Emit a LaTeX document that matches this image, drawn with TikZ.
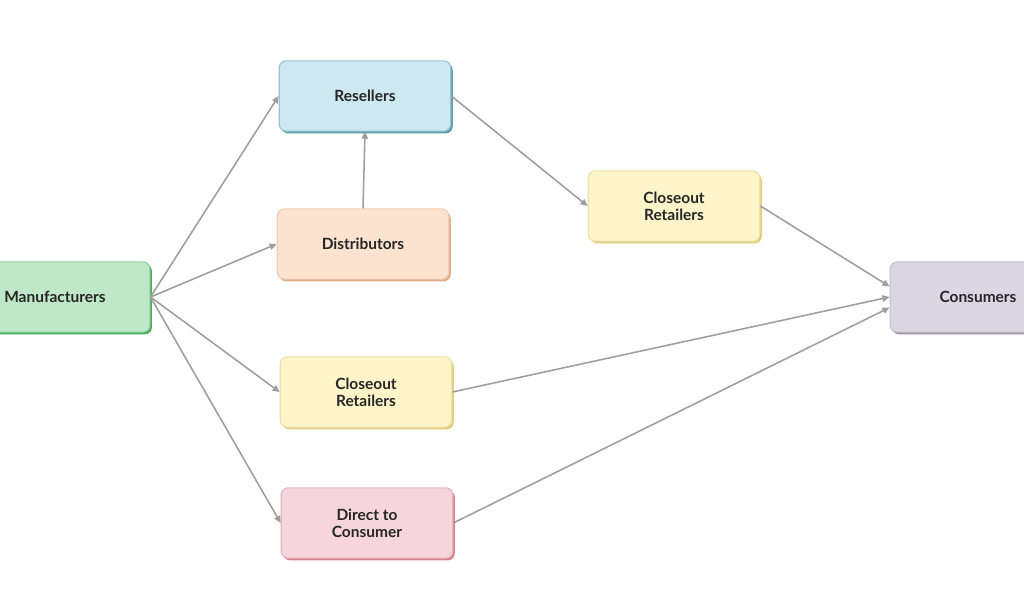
\documentclass[tikz,border=0pt]{standalone}
\usepackage{fontspec}
\setmainfont{Lato}
\usetikzlibrary{arrows.meta,shadows}
\definecolor{mfill}{HTML}{BFE8C8}\definecolor{mline}{HTML}{4CAF60}
\definecolor{rfill}{HTML}{CDE8F0}\definecolor{rline}{HTML}{5A9CB0}
\definecolor{dfill}{HTML}{FBE3CF}\definecolor{dline}{HTML}{E2AE88}
\definecolor{cfill}{HTML}{FDF5C9}\definecolor{cline}{HTML}{E0CE78}
\definecolor{pfill}{HTML}{F7D5DC}\definecolor{pline}{HTML}{D9838F}
\definecolor{kfill}{HTML}{DAD7E2}\definecolor{kline}{HTML}{9A97A8}
\definecolor{arr}{HTML}{9E9E9E}
\tikzset{
  box/.style 2 args={draw=#2!60, fill=#1, rounded corners=5pt, line width=0.8pt,
    minimum width=122pt, minimum height=50pt, align=center, font=\bfseries\fontsize{11}{12}\selectfont,
    text=black!85, general shadow={fill=#2, shadow xshift=1.4pt, shadow yshift=-1.6pt}},
  link/.style={draw=arr, line width=1.1pt, -{Triangle[length=5pt,width=4.5pt]}}
}
\begin{document}
\begin{tikzpicture}[x=0.025cm,y=-0.025cm]
    \useasboundingbox[fill=white] (0,0) rectangle (1024,597);
    \node[box={mfill}{mline}, minimum width=135pt] (manuf) at (55,297) {Manufacturers};
    \node[box={rfill}{rline}] (resell) at (365,96) {Resellers};
    \node[box={dfill}{dline}] (distr) at (363,244) {Distributors};
    \node[box={cfill}{cline}] (close1) at (674,206) {Closeout\\Retailers};
    \node[box={cfill}{cline}] (close2) at (366,392) {Closeout\\Retailers};
    \node[box={pfill}{pline}] (direct) at (367,523) {Direct to\\Consumer};
    \node[box={kfill}{kline}, minimum width=125pt] (consum) at (978,297) {Consumers};
    %
    \draw[link] (manuf.east) -- (resell.west);
    \draw[link] (manuf.east) -- (distr.west);
    \draw[link] (manuf.east) -- (close2.west);
    \draw[link] (manuf.east) -- (direct.west);
    \draw[link] (distr.north) -- (resell.south);
    \draw[link] (resell.east) -- (close1.west);
    \draw[link] (close1.east) -- ([yshift=7.5]consum.west);
    \draw[link] (close2.east) -- (consum.west);
    \draw[link] (direct.east) -- ([yshift=-7.5]consum.west);
\end{tikzpicture}
\end{document}
